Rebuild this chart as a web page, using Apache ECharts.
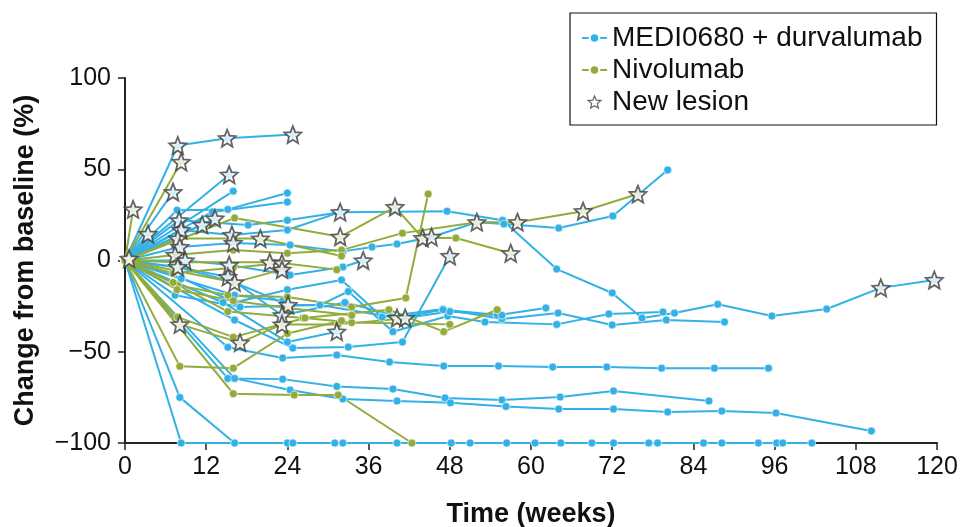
<!DOCTYPE html>
<html>
<head>
<meta charset="utf-8">
<script src="https://cdn.jsdelivr.net/npm/echarts@6/dist/echarts.min.js"></script>
<style>html,body{margin:0;padding:0;background:#fff}#c{width:963px;height:527px}</style>
</head>
<body>
<div id="c"></div>
<script>
// ---- data: [week, % change from baseline] per patient ----
const xTicks = [0, 12, 24, 36, 48, 60, 72, 84, 96, 108, 120];
const yTicks = [-100, -50, 0, 50, 100];

const mediPatients = [
  [[0,0],[7.8,63],[15.1,67],[24.8,69]],
  [[0,0],[7.1,37.5]],
  [[0,0],[15.4,47]],
  [[0,0],[16,38]],
  [[0,0],[7.7,27.6],[15.2,28],[24,37]],
  [[0,0],[12.9,26.6],[24,32]],
  [[0,0],[8,22],[18.2,19.4],[24,22],[31.8,26.5],[47.6,27],[55.8,22],[63.8,-4.7],[72,-17.8],[76.4,-31.5],[81.2,-28.8],[87.6,-24],[95.6,-30.4],[103.7,-26.6],[111.7,-15],[119.6,-10.7]],
  [[0,0],[8.1,7.4],[16,9.6],[24.4,8.5],[32.2,5],[36.5,7.4],[40.2,9],[45.3,12.9],[52,21],[56,20],[64.1,17.8],[72.1,24.4],[80.2,49.6]],
  [[0,0],[8.4,-9.6],[16.2,-23],[24,-16],[32,-10.7],[38,-31],[47,-26.6],[55.7,-32],[64,-28.8],[72,-35.3],[80,-32.6],[88.6,-33.7]],
  [[0,0],[7.4,-19],[17,-25.5],[28.8,-24.4],[33,-17],[39.6,-39],[47.7,-30.4],[53.2,-33.7],[63.8,-35],[71.5,-29.3],[79.5,-28.2]],
  [[0,0],[16.2,-32.6],[24.8,-48],[33,-47.4],[41,-44.7],[48,2.5]],
  [[0,0],[15.2,-47.5],[23.3,-53.4],[31.3,-51.8],[39.1,-55.6],[47.1,-57.8],[55.2,-57.8],[63.2,-58.4],[71.2,-58.4],[79.3,-59],[87.1,-59],[95.1,-59]],
  [[0,0],[15.2,-64.6],[23.3,-65],[31.3,-69],[39.6,-70.4],[47.3,-75.3],[55.7,-76.4],[64.3,-74.8],[72.2,-71.5],[86.3,-77]],
  [[0,0],[16.2,-64.6],[24.4,-71],[32.2,-75.9],[40.2,-77],[48.1,-78],[56.3,-80],[64.1,-81.4],[72.2,-81.4],[80.2,-83],[88.2,-82.5],[96.2,-83.6],[110.3,-93.4]],
  [[0,0],[8.3,-100],[24,-100],[32.2,-100],[48.2,-100],[56.4,-100],[64.4,-100],[72.2,-100],[85.5,-100],[93.6,-100],[101.5,-100]],
  [[0,0],[8.1,-75],[16.2,-100],[24.8,-100],[31,-100],[40.2,-100],[51,-100],[60.6,-100],[69,-100],[77.4,-100],[78.7,-100],[88.2,-100],[96.3,-100],[97.2,-100]],
  [[0,0],[7.8,-3.5],[15.2,-9],[23.2,-30],[32.5,-23],[41.4,-31.5],[48,-28],[55,-30],[62.2,-26]],
  [[0,0],[8.3,16.7],[15.8,14],[24,16.7],[31.8,26.5]],
  [[0,0],[8.9,0],[15.4,-2.5],[24.4,-8],[32.2,-3.6],[35.2,0]],
  [[0,0],[14.5,-23],[24,-44.7],[31.3,-39]],
  [[0,0],[3.4,14.5]],
  [[0,0],[11.4,19.5]],
  [[0,0],[13.3,23]],
  [[0,0],[8.1,-4],[16.2,-12],[24.1,-24.4],[28.8,-24.4],[40.2,-31.5],[47,-27],[55.7,-30]],
  [[0,0],[8.3,-10],[16.2,-19],[23.3,-22]]
];

const nivoPatients = [
  [[0,0],[1.2,28]],
  [[0,0],[8.3,54]],
  [[0,0],[16.2,23.3],[31.8,13],[39.9,29.3],[44,12.3],[48.9,12.3],[57,4]],
  [[0,0],[7.4,3],[16,5.7],[24,4],[32,5.7],[41,15],[52,21],[58,21],[67.7,27],[75.8,36.4]],
  [[0,0],[7.1,-7],[16,-4],[23.2,-1.4],[31.3,-5]],
  [[0,0],[7.8,12],[20,12],[32,2.5]],
  [[0,0],[7.8,-13.5],[15.2,-19],[24,-20],[33.5,-25.5],[41.5,-20.5],[44.8,36.4]],
  [[0,0],[7.1,-12],[15.2,-28],[26.3,-31.5],[39,-27],[47.1,-39],[55,-27]],
  [[0,0],[7.8,-31],[16,-42],[26.6,-31.5],[33.5,-34],[48,-35]],
  [[0,0],[8.1,-35],[17,-45],[23.2,-35],[31.5,-35],[40.2,-32]],
  [[0,0],[8.1,-58],[16,-59],[24,-40],[32,-33]],
  [[0,0],[16,-73],[25,-73.7],[31.5,-73.7],[42.4,-100]],
  [[0,0],[8,-1],[21.4,-1]],
  [[0,0],[16.2,-12],[23.2,-5]],
  [[0,0],[7.7,-16],[16,-22],[24,-26],[33.5,-30]]
];

const newLesions = [
  [0.6,1],[1.2,28],[3.4,14.5],[7.8,63],[15.1,67],[24.8,69],[8.3,54],[7.1,37.5],[15.4,47],
  [8,22],[8.3,16.7],[7.8,12],[8.1,7.4],[7.4,3],[8.9,0],[7.8,-3.5],[8.1,-35],
  [11.4,19.5],[13.3,23],[15.8,14],[16,9.6],[20,12],[21.4,-1],[23.2,-1.4],[23.2,-5],
  [15.4,-2.5],[15.2,-9],[16.2,-12],[24.1,-24.4],[23.2,-30],[23.2,-35],[17,-45],
  [31.3,-39],[40.2,-31.5],[41.4,-31.5],[31.8,26.5],[39.9,29.3],[31.8,13],[35.2,0],
  [44,12.3],[45.3,12.9],[48,2.5],[52,21],[58,21],[57,4],[67.7,27],[75.8,36.4],
  [111.7,-15],[119.6,-10.7]
];

// ---- styling ----
const BLUE = '#33b1e6';
const GREEN = '#92ac3c';
const MEDI = 'MEDI0680 + durvalumab';
const NIVO = 'Nivolumab';
const LESION = 'New lesion';
const STAR = 'path://M10 0 L12.65 6.36 L19.51 6.91 L14.28 11.39 L15.88 18.09 L10 14.5 L4.12 18.09 L5.72 11.39 L0.49 6.91 L7.35 6.36 Z';
const FONT = 'Liberation Sans, Arial, Helvetica, sans-serif';

function lineSeries(name, color, data) {
  return {
    type: 'line', name: name, data: data,
    symbol: 'circle', symbolSize: 8, showSymbol: true,
    lineStyle: { color: color, width: 2 },
    itemStyle: { color: color, borderColor: '#fff', borderWidth: 0.6 },
    emphasis: { disabled: true }, z: 2
  };
}

const series = [];
mediPatients.forEach(p => series.push(lineSeries(MEDI, BLUE, p)));
nivoPatients.forEach(p => series.push(lineSeries(NIVO, GREEN, p)));
series.push({
  type: 'scatter', name: LESION, data: newLesions,
  symbol: STAR, symbolSize: 17,
  itemStyle: { color: '#ffffff', borderColor: '#3d3d3d', borderWidth: 1.8 },
  emphasis: { disabled: true }, z: 5
});

const axisCommon = {
  type: 'value',
  axisLine: { show: true, onZero: false, lineStyle: { color: '#222', width: 2 } },
  axisTick: { show: true, length: 7, lineStyle: { color: '#222', width: 1.5 } },
  splitLine: { show: false },
  nameLocation: 'middle',
  nameTextStyle: { fontSize: 27, fontWeight: 'bold', color: '#111', fontFamily: FONT }
};

const minus = v => String(v).replace('-', '\u2212');

const chart = echarts.init(document.getElementById('c'), null, { renderer: 'canvas' });
chart.setOption({
  animation: false,
  backgroundColor: '#fff',
  grid: { left: 125, right: 26, top: 78, bottom: 84, containLabel: false, outerBoundsMode: 'none' },
  xAxis: Object.assign({}, axisCommon, {
    min: xTicks[0], max: xTicks[xTicks.length - 1], interval: xTicks[1] - xTicks[0],
    name: 'Time (weeks)', nameGap: 58,
    axisLabel: { fontSize: 25, color: '#111', margin: 12, fontFamily: FONT }
  }),
  yAxis: Object.assign({}, axisCommon, {
    min: yTicks[0], max: yTicks[yTicks.length - 1], interval: yTicks[1] - yTicks[0],
    name: 'Change from baseline (%)', nameGap: 86,
    axisLabel: { fontSize: 25, color: '#111', margin: 14, fontFamily: FONT, formatter: minus }
  }),
  legend: {
    orient: 'vertical', left: 570, top: 13,
    padding: [10, 14, 8, 11],
    borderColor: '#111', borderWidth: 1.2,
    itemWidth: 25, itemHeight: 12, itemGap: 2,
    textStyle: { fontSize: 28, color: '#111', fontFamily: FONT, lineHeight: 30 },
    selectedMode: false,
    data: [
      { name: MEDI },
      { name: NIVO },
      { name: LESION, icon: STAR, itemStyle: { color: '#fff', borderColor: '#3d3d3d', borderWidth: 1.2 } }
    ]
  },
  series: series
});
</script>
</body>
</html>
